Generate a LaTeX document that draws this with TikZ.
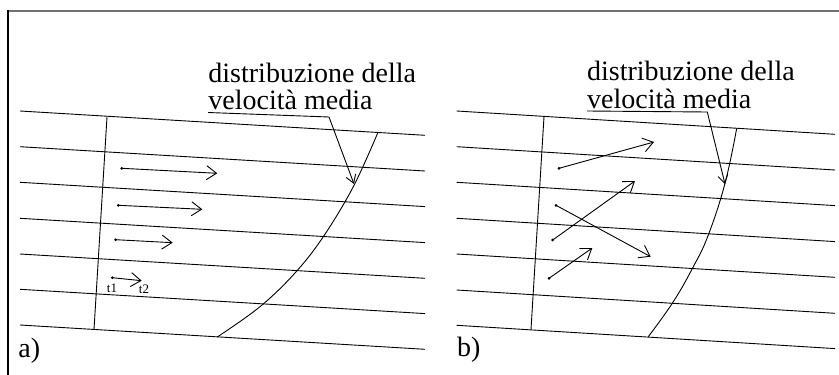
\documentclass[tikz,border=0pt]{standalone}
\usepackage{fontspec}
\setmainfont{Liberation Serif}
\usetikzlibrary{arrows.meta}
\definecolor{framegray}{RGB}{112,112,112}
\begin{document}
\begin{tikzpicture}[x=1pt,y=-1pt,line width=0.9pt,
  vel/.style={-{Straight Barb[length=10pt,width=14pt]}},
  lead/.style={-{Straight Barb[length=8pt,width=10pt]}},
  dotpt/.style={circle,fill,inner sep=0pt,minimum size=3pt},
  lbl/.style={font=\fontsize{28}{32}\selectfont,inner sep=0pt,anchor=base west},
  tlbl/.style={font=\fontsize{13}{15}\selectfont,inner sep=0pt,anchor=base}]
\useasboundingbox (0,0) rectangle (839,375);
% frame
\draw[framegray,line width=2.2pt] (8,11) -- (839,11);
\draw[line width=1.2pt] (8,10) -- (8,375);
% ---------- panel a ----------
\foreach \yy in {111,146.7,182.3,218.3,254,289.3,325}
  \draw (20,\yy) -- (425,\yy+24.3);
\draw (107,117) -- (94,329.5);
\draw plot[smooth,tension=0.6] coordinates {(377.7,133) (353.3,186.7) (323.3,236.7) (295,273) (260,306.7) (217.3,337)};
\node[lbl] (ta1) at (208,82) {distribuzione della};
\node[lbl] (ta2) at (208,109.5) {velocità media};
\coordinate (ua1) at (208,112.5);
\coordinate (ua2) at (329,117);
\coordinate (uat) at (354,184);
\draw[lead] (ua1) -- (ua2) -- (uat);
% velocity arrows a
\coordinate (as1) at (121.7,168.3); \coordinate (ae1) at (217.3,173.3);
\coordinate (as2) at (118.3,205.3); \coordinate (ae2) at (202.3,209.3);
\coordinate (as3) at (115.7,239.7); \coordinate (ae3) at (172.7,242.7);
\coordinate (as4) at (112.3,277.7); \coordinate (ae4) at (141.7,280.7);
\foreach \i in {1,...,4}{
  \draw[vel] (as\i) -- (ae\i);
  \node[dotpt] at (as\i) {};
}
\node[tlbl] (t1) at (112,292) {t1};
\node[tlbl] (t2) at (144,293) {t2};
\node[lbl] (la) at (18,357) {a)};
% ---------- panel b ----------
\foreach \yy in {111,146.7,182.3,218.3,254,290,325.3}
  \draw (456.7,\yy) -- (835,\yy+23.3);
\draw (544,116.7) -- (531,329.5);
\draw plot[smooth,tension=0.7] coordinates {(736.7,128.3) (725,183.3) (708.3,235) (693.3,266.7) (673.3,301.7) (648.3,336.7)};
\node[lbl] (tb1) at (586.7,80.5) {distribuzione della};
\node[lbl] (tb2) at (586.7,108) {velocità media};
\coordinate (ub1) at (587,111);
\coordinate (ub2) at (707.3,112);
\coordinate (ubt) at (725,184);
\draw[lead] (ub1) -- (ub2) -- (ubt);
\coordinate (bs1) at (559,168.3); \coordinate (be1) at (654,142);
\coordinate (bs2) at (552.7,240); \coordinate (be2) at (635,181);
\coordinate (bs3) at (556,205.3); \coordinate (be3) at (650.7,256.7);
\coordinate (bs4) at (549,278.3); \coordinate (be4) at (592.3,248);
\foreach \i in {1,...,4}{
  \draw[vel] (bs\i) -- (be\i);
  \node[dotpt] at (bs\i) {};
}
\node[lbl] (lb) at (456.7,356) {b)};
\end{tikzpicture}
\end{document}
